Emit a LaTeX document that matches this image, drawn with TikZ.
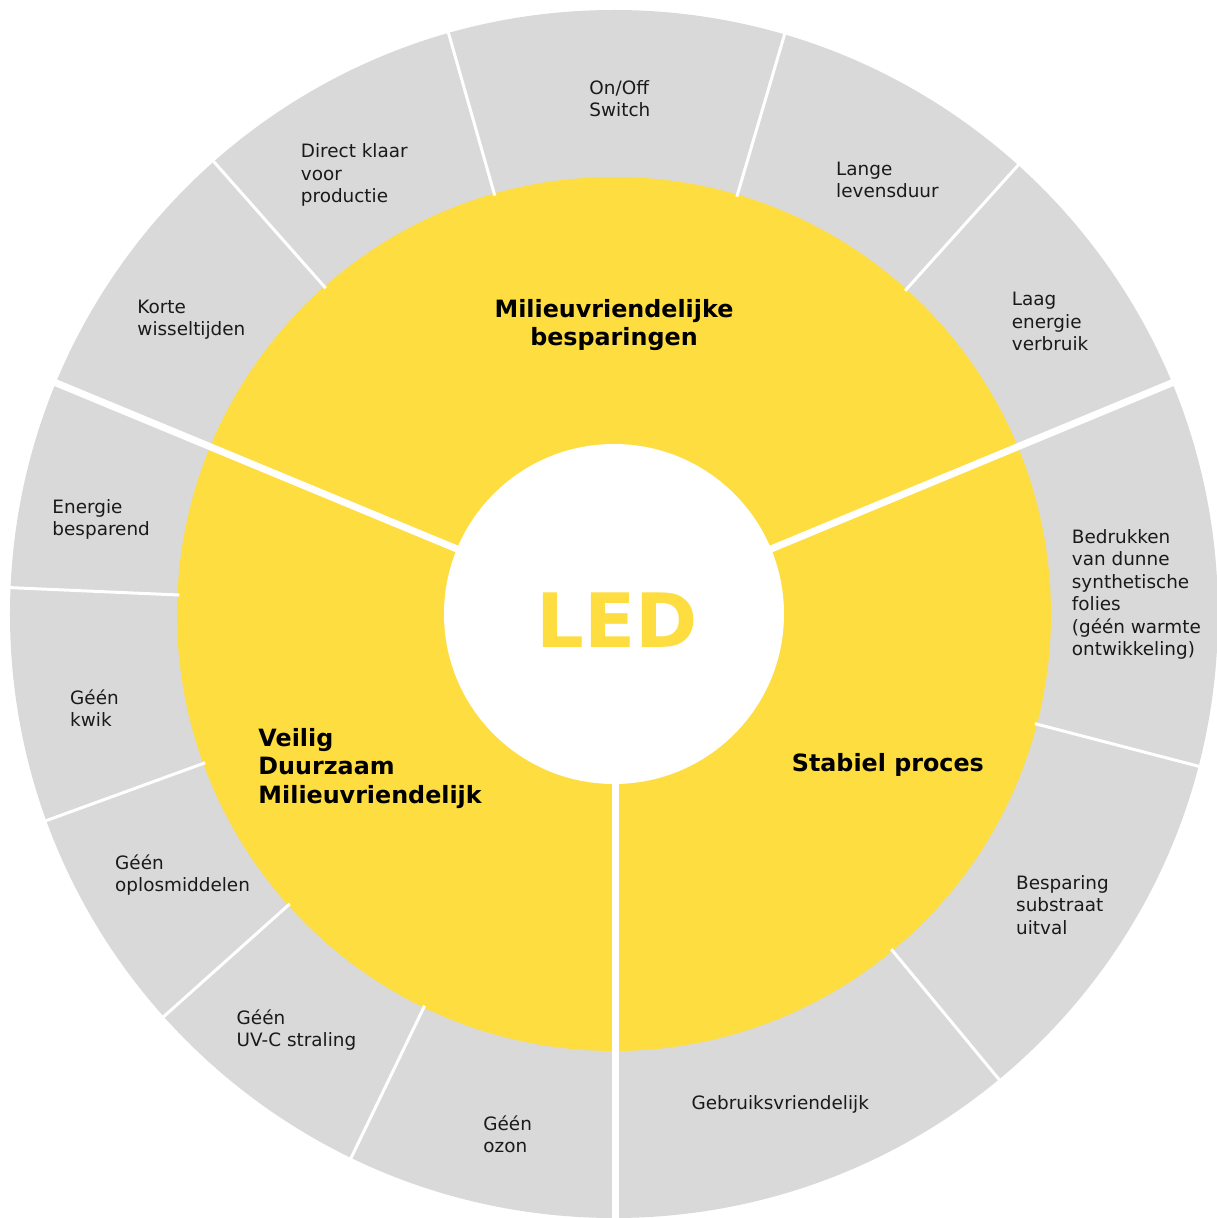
\documentclass[tikz,border=0pt]{standalone}
\usepackage{fontspec}
\setmainfont{DejaVu Sans}
\definecolor{ledyellow}{RGB}{254,221,64}
\definecolor{ledgrey}{RGB}{217,217,217}
\definecolor{ledtext}{RGB}{26,26,26}
\newcommand{\fsr}{\rule{0pt}{16pt}}
\newcommand{\fsb}{\rule{0pt}{20pt}}
\tikzset{
  lbl/.style={anchor=north west, inner sep=0pt, align=left, text=ledtext,
              font=\fontsize{18.4}{22.4}\selectfont},
  hdr/.style={inner sep=0pt, text=black,
              font=\fontsize{23.8}{28.4}\selectfont\bfseries},
  thinsep/.style={draw=white, line width=3pt},
  thicksep/.style={draw=white, line width=7pt},
}
\begin{document}
\begin{tikzpicture}[x=1pt,y=1pt]
  \useasboundingbox (-614,-604) rectangle (603,614);
  \clip (-614,-604) rectangle (603,614);
  % rings
  \fill[ledgrey] (0,0) circle (604pt);
  \fill[ledyellow] (0,0) circle (437pt);
  \fill[white] (0,0) circle (170pt);
  % thin separators between outer segments
  \foreach \a in {48,73.6,105.9,131.5,177.5,200,221.8,244.2,-14.6,-50.4}
    \draw[thinsep] (\a:435) -- (\a:615);
  % thick separators between main sectors
  \draw[thicksep] (157.5:166) -- (157.5:630);
  \draw[thicksep] (22.5:166) -- (22.5:630);
  \draw[thicksep] (1.5,-166) -- (1.5,-630);
  % centre
  \node[anchor=base, inner sep=0pt, text=ledyellow,
        font=\fontsize{75}{90}\selectfont\bfseries] (led) at (3.5,-33.3) {LED};
  % sector headers
  \node[hdr, anchor=north, align=center] (top) at (0,316.7)
    {\fsb Milieuvriendelijke\\besparingen};
  \node[hdr, anchor=north west, align=left] (left) at (-355.7,-112)
    {\fsb Veilig\\Duurzaam\\Milieuvriendelijk};
  \node[hdr, anchor=north west, align=left] (right) at (177.7,-137.7)
    {\fsb Stabiel proces};
  % outer labels
  \node[lbl] (onoff) at (-24.7,535.7) {\fsr On/Off\\Switch};
  \node[lbl] (direct) at (-313.3,472.3) {\fsr Direct klaar\\voor\\productie};
  \node[lbl] (lange) at (222,455) {\fsr Lange\\levensduur};
  \node[lbl] (korte) at (-476.7,316.7) {\fsr Korte\\wisseltijden};
  \node[lbl] (laag) at (397.7,324.3) {\fsr Laag\\energie\\verbruik};
  \node[lbl] (energie) at (-561.7,116.7) {\fsr Energie\\besparend};
  \node[lbl] (bedrukken) at (457.7,86.7)
    {\fsr Bedrukken\\van dunne\\synthetische\\folies\\(géén warmte\\ontwikkeling)};
  \node[lbl] (kwik) at (-544,-74) {\fsr Géén\\kwik};
  \node[lbl] (oplos) at (-499,-239) {\fsr Géén\\oplosmiddelen};
  \node[lbl] (besparing) at (402,-259) {\fsr Besparing\\substraat\\uitval};
  \node[lbl] (uvc) at (-377.5,-394) {\fsr Géén\\UV-C straling};
  \node[lbl] (gebruik) at (77.4,-479.3) {\fsr Gebruiksvriendelijk};
  \node[lbl] (ozon) at (-130.8,-500) {\fsr Géén\\ozon};
\end{tikzpicture}
\end{document}
